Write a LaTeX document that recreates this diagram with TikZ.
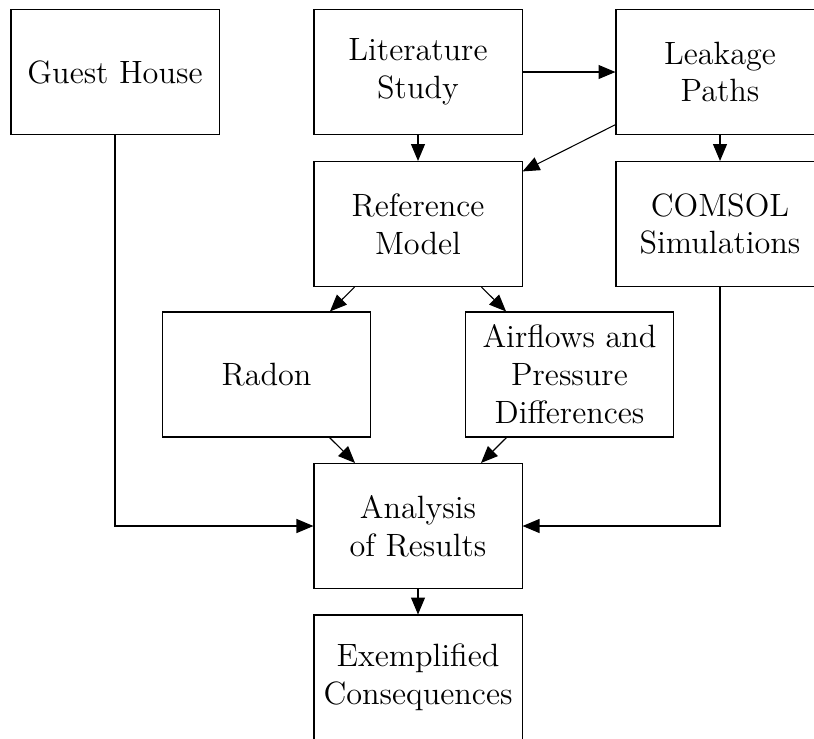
\documentclass[tikz,border=0pt]{standalone}
\usetikzlibrary{arrows.meta}
\begin{document}
\begin{tikzpicture}[x=0.372pt,y=-0.372pt,
  box/.style={draw, line width=0.4pt, minimum width=77.4pt, minimum height=46.5pt,
    align=center, inner sep=0pt, font=\fontsize{12}{14.1}\selectfont},
  arr/.style={draw, line width=0.4pt, -{Triangle[length=6.3pt,width=5.2pt]}}]
\useasboundingbox (0,0) rectangle (814,738);
\clip (0,0) rectangle (814,738);
\node[box] (guest)  at (115,72)    {Guest House};
\node[box] (lit)    at (418,72)    {Literature\\Study};
\node[box] (leak)   at (720,72)    {Leakage\\Paths};
\node[box] (ref)    at (418,224)   {Reference\\Model};
\node[box] (comsol) at (720,224)   {COMSOL\\Simulations};
\node[box] (radon)  at (266.5,374.5) {Radon};
\node[box] (air)    at (569.5,374.5) {Airflows and\\Pressure\\Differences};
\node[box] (ana)    at (418,526)   {Analysis\\of Results};
\node[box] (exe)    at (418,677.5) {Exemplified\\Consequences};
\draw[arr] (lit) -- (leak);
\draw[arr] (lit) -- (ref);
\draw[arr] (leak) -- (ref);
\draw[arr] (leak) -- (comsol);
\draw[arr] (ref) -- (radon);
\draw[arr] (ref) -- (air);
\draw[arr] (radon) -- (ana);
\draw[arr] (air) -- (ana);
\draw[arr] (guest) |- (ana);
\draw[arr] (comsol) |- (ana);
\draw[arr] (ana) -- (exe);
\end{tikzpicture}
\end{document}
